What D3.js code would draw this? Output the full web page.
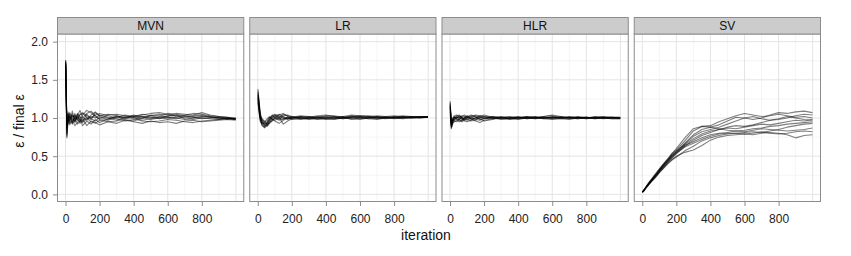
<!DOCTYPE html>
<html>
<head>
<meta charset="utf-8">
<script src="https://cdn.jsdelivr.net/npm/d3@7"></script>
<style>
  html, body { margin: 0; padding: 0; background: #fff; }
  svg { display: block; font-family: "Liberation Sans", Arial, Helvetica, sans-serif; }
</style>
</head>
<body>
<svg id="chart" width="851" height="256"></svg>
<script>
// ---------------- data ----------------
const panels = ["MVN", "LR", "HLR", "SV"];
const iterations = [1, 8, 15, 25, 40, 55, 70, 85, 100, 125, 150, 175, 200, 250, 300, 350, 400, 450, 500, 550, 600, 650, 700, 750, 800, 850, 900, 950, 999];
const xTicks = [0, 200, 400, 600, 800];
const yTicks = [0, 0.5, 1, 1.5, 2];
const yTickLabels = ["0.0", "0.5", "1.0", "1.5", "2.0"];

const mvnSeries = [
  [1.76,0.74,0.98,1.04,0.92,1.06,0.97,1.02,0.95,1.05,0.99,0.96,1.01,0.98,1.03,1.00,1.02,0.99,1.03,1.05,1.04,1.02,1.01,1.00,1.02,1.01,0.99,1.00,0.98],
  [1.72,0.80,1.05,0.93,1.09,0.95,1.03,1.10,1.01,0.97,1.04,1.08,1.02,1.00,0.97,1.01,1.03,1.02,1.00,1.02,1.06,1.05,1.03,1.02,1.03,1.01,1.00,0.99,0.99],
  [1.70,0.86,0.95,1.02,0.97,0.90,0.94,0.99,0.90,0.96,0.92,0.98,0.94,0.99,1.02,0.98,0.96,1.00,1.04,1.03,1.01,0.99,1.02,1.03,1.04,1.02,1.01,1.00,0.99],
  [1.68,0.90,1.08,0.97,1.03,1.01,0.92,0.96,1.04,1.10,1.07,1.02,0.99,1.04,1.05,1.03,1.01,1.04,1.06,1.07,1.05,1.03,1.04,1.06,1.05,1.03,1.02,1.01,1.00],
  [1.74,0.78,1.00,1.06,0.94,1.00,1.05,0.93,0.97,1.00,0.95,0.93,0.97,0.95,0.96,0.99,1.01,0.97,0.99,1.01,1.02,1.04,0.99,0.98,1.00,0.99,0.98,0.99,0.98],
  [1.65,0.95,0.92,0.99,1.02,1.04,0.99,1.05,1.07,1.03,1.00,1.04,1.06,1.03,1.00,1.02,0.99,0.96,0.95,0.96,0.98,0.97,0.95,0.94,0.96,0.97,0.98,0.99,0.98],
  [1.73,0.83,1.03,0.91,0.99,0.96,1.01,0.98,0.94,0.99,1.02,1.00,1.04,1.01,0.99,0.96,0.98,1.02,1.01,0.99,1.03,1.06,1.05,1.04,1.07,1.04,1.02,1.01,0.99],
  [1.69,0.88,0.97,1.07,1.01,0.94,1.06,1.01,1.00,1.06,1.09,1.03,0.98,0.97,1.01,1.04,1.02,1.05,1.03,1.00,0.99,1.01,1.03,1.01,0.99,1.00,1.01,1.00,0.99],
  [1.75,0.76,1.01,0.96,0.93,1.03,0.98,0.95,0.99,0.90,0.96,0.94,0.91,0.95,0.93,0.97,0.95,0.93,0.96,0.94,0.95,0.93,0.96,0.97,0.95,0.96,0.97,0.98,0.97],
  [1.71,0.92,1.06,1.00,1.05,0.98,1.02,1.04,1.06,1.01,0.98,1.07,1.03,1.05,1.03,1.00,1.04,1.01,0.98,1.00,1.01,1.00,0.98,1.00,1.01,1.02,1.00,0.99,1.00]
];

const lrSeries = [
  [1.38,1.22,1.02,0.93,0.89,0.91,0.96,1.00,1.03,1.05,1.02,0.99,1.00,1.01,0.99,1.00,1.02,1.01,1.00,1.03,1.02,1.01,1.00,1.01,1.02,1.01,1.01,1.02,1.02],
  [1.30,1.15,0.98,0.90,0.88,0.93,0.98,1.02,1.04,1.00,0.98,1.01,1.02,0.99,1.00,1.01,1.00,1.00,1.02,1.04,1.03,1.02,1.01,1.00,1.01,1.02,1.01,1.01,1.01],
  [1.25,1.10,0.95,0.92,0.94,0.97,1.01,0.99,0.96,0.93,0.97,1.00,1.01,1.00,0.98,0.99,1.01,1.02,0.99,1.00,1.01,1.00,0.99,1.00,1.00,1.01,1.00,1.01,1.01],
  [1.33,1.18,1.04,0.96,0.91,0.89,0.93,0.97,1.01,1.04,1.06,1.02,0.99,1.02,1.01,1.03,1.04,1.02,1.01,1.02,1.00,0.99,1.01,1.02,1.03,1.02,1.02,1.01,1.02],
  [1.20,1.06,0.97,0.94,0.92,0.95,0.99,1.03,1.05,1.02,1.00,0.98,1.00,1.02,1.00,0.99,0.98,0.99,1.01,0.99,0.98,1.00,1.02,1.01,0.99,1.00,1.01,1.00,1.01],
  [1.28,1.12,1.00,0.91,0.87,0.90,0.95,0.98,0.99,1.01,0.92,0.96,0.99,0.98,1.00,1.02,1.01,1.00,0.99,1.01,1.02,1.03,1.02,1.00,1.01,1.00,1.02,1.01,1.01],
  [1.35,1.20,1.06,0.98,0.93,0.92,0.97,1.01,1.02,0.98,1.03,1.04,1.02,1.01,1.02,1.00,0.99,1.01,1.02,1.00,0.99,1.01,1.00,0.99,1.00,1.01,1.00,1.01,1.02],
  [1.23,1.08,0.99,0.95,0.90,0.94,1.00,1.04,1.00,0.97,0.99,1.01,0.98,1.00,1.01,0.98,1.00,0.99,1.00,1.01,1.03,1.02,1.00,1.01,1.00,0.99,1.00,1.00,1.01],
  [1.31,1.16,1.01,0.97,0.95,0.99,1.02,0.98,0.97,1.00,1.05,1.03,1.01,0.99,0.99,1.01,1.03,1.03,1.01,0.98,1.00,1.01,1.03,1.02,1.01,1.03,1.02,1.02,1.02],
  [1.27,1.13,1.03,0.99,0.96,0.91,0.94,0.96,1.00,1.03,1.01,0.99,1.01,1.03,1.02,1.01,0.99,0.98,1.00,1.02,1.01,0.99,0.98,1.00,1.01,1.00,1.01,1.02,1.01]
];

const hlrSeries = [
  [1.22,0.88,0.94,0.99,1.02,0.98,0.96,1.00,1.02,1.01,0.98,0.97,1.00,1.01,0.99,1.00,1.01,1.00,0.99,1.01,1.00,1.01,1.00,0.99,1.00,1.01,1.00,1.00,1.00],
  [1.15,0.86,0.92,0.97,1.00,1.03,1.01,0.98,0.97,1.00,1.03,1.01,0.99,1.00,1.01,0.99,1.00,1.01,1.00,1.02,1.04,1.02,1.00,1.01,1.00,1.01,1.02,1.01,1.00],
  [1.10,0.90,0.96,1.01,0.98,0.95,0.97,1.01,1.03,0.99,0.96,0.94,0.97,0.99,1.00,1.01,0.99,1.00,1.01,1.00,0.99,1.00,1.01,1.00,0.99,1.00,1.01,1.01,1.00],
  [1.18,0.92,0.98,1.03,1.04,1.01,0.99,0.97,0.99,1.02,1.04,1.03,1.01,1.02,1.00,0.99,1.01,1.02,1.01,1.00,1.02,1.01,1.00,0.99,1.01,1.00,0.99,1.00,1.00],
  [1.05,0.89,0.93,0.95,0.97,0.99,1.02,1.04,1.01,0.98,0.99,1.00,1.02,1.00,0.98,1.00,1.02,0.99,1.00,0.99,1.00,0.99,0.98,1.00,1.01,0.99,1.00,0.99,0.99],
  [1.12,0.94,1.00,1.02,0.99,0.97,0.95,0.98,1.00,1.03,1.01,0.99,0.96,0.98,1.01,1.00,0.99,1.00,1.02,1.01,1.00,1.02,1.01,1.00,1.00,1.02,1.01,1.00,1.00],
  [1.20,0.87,0.95,1.00,1.03,1.04,1.00,0.96,0.95,0.97,1.00,1.02,1.04,1.01,0.99,0.98,1.00,1.01,0.99,1.00,1.01,1.00,0.99,1.01,1.00,0.99,1.00,1.01,1.01],
  [1.08,0.91,0.97,0.98,1.01,1.00,1.03,1.02,0.98,0.96,0.97,1.01,1.00,0.99,1.00,1.02,1.01,0.99,1.00,1.02,1.03,1.00,1.01,1.02,1.01,1.00,1.01,1.00,1.00],
  [1.14,0.93,0.99,0.96,0.95,0.98,1.01,0.99,1.02,1.04,1.02,0.98,0.99,1.02,1.01,0.99,0.98,1.00,1.01,0.99,0.98,0.99,1.00,1.01,0.99,1.01,1.00,0.99,0.99],
  [1.16,0.90,0.96,1.01,1.00,1.02,0.98,1.00,1.01,0.99,1.00,1.03,1.02,1.00,1.02,1.01,1.00,1.02,1.01,1.00,1.01,1.00,1.02,1.00,1.01,1.00,1.00,1.01,1.01]
];

const svSeries = [
  [0.03,0.05,0.07,0.10,0.15,0.19,0.23,0.27,0.31,0.38,0.45,0.53,0.60,0.74,0.86,0.89,0.90,0.95,0.99,1.03,1.06,1.04,1.02,1.03,1.05,1.03,1.01,1.02,1.00],
  [0.03,0.05,0.07,0.11,0.15,0.20,0.24,0.28,0.33,0.40,0.47,0.54,0.58,0.70,0.83,0.89,0.88,0.91,0.96,1.01,1.00,0.98,1.00,1.04,1.07,1.06,1.08,1.09,1.07],
  [0.03,0.04,0.06,0.09,0.13,0.17,0.21,0.25,0.29,0.35,0.42,0.48,0.53,0.63,0.71,0.77,0.81,0.85,0.88,0.90,0.89,0.91,0.94,0.97,0.99,1.02,1.00,0.98,0.97],
  [0.03,0.05,0.07,0.10,0.14,0.18,0.22,0.26,0.30,0.37,0.44,0.50,0.55,0.64,0.69,0.74,0.78,0.80,0.81,0.83,0.84,0.86,0.87,0.89,0.90,0.92,0.93,0.94,0.95],
  [0.03,0.05,0.07,0.10,0.14,0.18,0.22,0.25,0.29,0.35,0.41,0.46,0.50,0.55,0.58,0.64,0.71,0.75,0.77,0.78,0.79,0.78,0.80,0.81,0.80,0.78,0.74,0.77,0.78],
  [0.03,0.05,0.08,0.11,0.16,0.20,0.25,0.29,0.33,0.40,0.46,0.51,0.56,0.67,0.78,0.85,0.88,0.86,0.84,0.83,0.82,0.84,0.86,0.85,0.84,0.83,0.84,0.85,0.87],
  [0.03,0.04,0.06,0.09,0.13,0.17,0.20,0.24,0.28,0.34,0.40,0.45,0.49,0.57,0.63,0.70,0.74,0.77,0.79,0.80,0.81,0.82,0.81,0.83,0.85,0.88,0.90,0.92,0.93],
  [0.03,0.05,0.07,0.10,0.15,0.19,0.23,0.28,0.32,0.39,0.45,0.52,0.57,0.66,0.76,0.82,0.85,0.88,0.92,0.96,1.00,1.02,0.99,0.97,0.98,1.00,1.03,1.05,1.04],
  [0.03,0.05,0.07,0.10,0.14,0.18,0.22,0.26,0.31,0.37,0.43,0.48,0.54,0.62,0.67,0.72,0.76,0.79,0.80,0.80,0.79,0.80,0.82,0.80,0.79,0.80,0.82,0.83,0.82],
  [0.03,0.05,0.07,0.10,0.14,0.19,0.23,0.27,0.31,0.38,0.44,0.50,0.55,0.65,0.73,0.79,0.83,0.85,0.87,0.86,0.88,0.90,0.92,0.91,0.93,0.95,0.97,0.96,0.98]
];

const panelSeries = [mvnSeries, lrSeries, hlrSeries, svSeries];

// ---------------- layout ----------------
const plotLeft = 57, plotRight = 821, gap = 5;
const stripTop = 17, stripH = 17;
const panelTop = stripTop + stripH, panelBottom = 202;
const panelW = (plotRight - plotLeft - gap * (panels.length - 1)) / panels.length;
const tickFont = 12;

const svg = d3.select("#chart");

const y = d3.scaleLinear().domain([-0.1, 2.1]).range([panelBottom, panelTop]);
const xMinorTicks = [100, 300, 500, 700, 900];
const xMajorGrid = [0, 200, 400, 600, 800, 1000];
const yMinorTicks = [0.25, 0.75, 1.25, 1.75];

panels.forEach((name, i) => {
  const x0 = plotLeft + i * (panelW + gap);
  const x = d3.scaleLinear().domain([-49.95, 1048.95]).range([x0, x0 + panelW]);
  const g = svg.append("g");

  g.append("rect").attr("x", x0).attr("y", panelTop).attr("width", panelW).attr("height", panelBottom - panelTop)
    .attr("fill", "#ffffff");

  // minor grid
  g.selectAll(".xminor").data(xMinorTicks).join("line")
    .attr("x1", d => x(d)).attr("x2", d => x(d)).attr("y1", panelTop).attr("y2", panelBottom)
    .attr("stroke", "#f3f3f3").attr("stroke-width", 0.8);
  g.selectAll(".yminor").data(yMinorTicks).join("line")
    .attr("x1", x0).attr("x2", x0 + panelW).attr("y1", d => y(d)).attr("y2", d => y(d))
    .attr("stroke", "#f3f3f3").attr("stroke-width", 0.8);
  // major grid
  g.selectAll(".xmajor").data(xMajorGrid).join("line")
    .attr("x1", d => x(d)).attr("x2", d => x(d)).attr("y1", panelTop).attr("y2", panelBottom)
    .attr("stroke", "#e4e4e4").attr("stroke-width", 1);
  g.selectAll(".ymajor").data(yTicks).join("line")
    .attr("x1", x0).attr("x2", x0 + panelW).attr("y1", d => y(d)).attr("y2", d => y(d))
    .attr("stroke", "#e4e4e4").attr("stroke-width", 1);

  // lines
  const line = d3.line().x((d, k) => x(iterations[k])).y(d => y(d));
  g.selectAll(".series").data(panelSeries[i]).join("path")
    .attr("d", line).attr("fill", "none")
    .attr("stroke", "#000").attr("stroke-opacity", 0.5).attr("stroke-width", 1.1)
    .attr("stroke-linejoin", "round");

  // panel border
  g.append("rect").attr("x", x0 + 0.5).attr("y", panelTop).attr("width", panelW - 1).attr("height", panelBottom - panelTop - 0.5)
    .attr("fill", "none").attr("stroke", "#8c8c8c").attr("stroke-width", 1);

  // strip
  g.append("rect").attr("x", x0 + 0.5).attr("y", stripTop + 0.5).attr("width", panelW - 1).attr("height", stripH - 0.5)
    .attr("fill", "#cccccc").attr("stroke", "#8c8c8c").attr("stroke-width", 1);
  g.append("text").attr("x", x0 + panelW / 2).attr("y", stripTop + stripH / 2 + 4.3)
    .attr("text-anchor", "middle").attr("font-size", 12).attr("fill", "#111").text(name);

  // x axis
  const xAxis = d3.axisBottom(x).tickValues(xTicks).tickSize(4).tickPadding(8).tickFormat(d3.format("d"));
  const ax = g.append("g").attr("transform", `translate(0,${panelBottom})`).call(xAxis);
  ax.select(".domain").remove();
  ax.selectAll(".tick line").attr("stroke", "#8c8c8c");
  ax.selectAll(".tick text").attr("font-size", tickFont).attr("fill", "#222").attr("font-family", "Liberation Sans, Arial, sans-serif");
});

// y axis (left panel only)
const yAxis = d3.axisLeft(y).tickValues(yTicks).tickSize(4).tickPadding(5)
  .tickFormat((d, k) => yTickLabels[k]);
const ay = svg.append("g").attr("transform", `translate(${plotLeft},0)`).call(yAxis);
ay.select(".domain").remove();
ay.selectAll(".tick line").attr("stroke", "#8c8c8c");
ay.selectAll(".tick text").attr("font-size", tickFont).attr("fill", "#222").attr("font-family", "Liberation Sans, Arial, sans-serif");

// axis titles
svg.append("text").attr("x", 426).attr("y", 240).attr("text-anchor", "middle")
  .attr("font-size", 14).attr("fill", "#111").text("iteration");
svg.append("text").attr("transform", "translate(24,121) rotate(-90)").attr("text-anchor", "middle")
  .attr("font-size", 14).attr("fill", "#111").text("ε / final ε");
</script>
</body>
</html>
